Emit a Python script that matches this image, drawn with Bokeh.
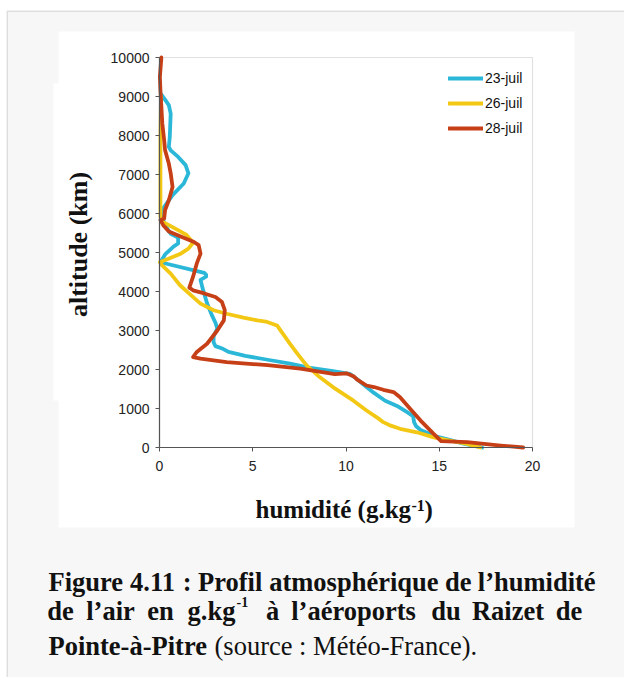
from bokeh.plotting import figure
from bokeh.models import Range1d, Label, BoxAnnotation, Legend, LegendItem, FixedTicker
from bokeh.embed import file_html
from bokeh.resources import INLINE

# ---------------- data ----------------
series_names = ["23-juil", "26-juil", "28-juil"]

hum_23 = [17.3, 16.3, 15.5, 14.7, 14.0, 13.75, 13.65, 13.6, 13.3, 12.8, 12.1, 11.5, 11.1, 10.6, 10.2,
          9.3, 8.0, 7.0, 5.8, 4.6, 3.7, 3.4, 3.0, 2.9, 2.9, 3.1, 3.0, 2.8, 2.55, 2.3, 2.2, 2.5, 2.5,
          2.4, 0.05, 0.3, 0.75, 1.0, 1.0, 0.6, 0.3, 0.15, 0.2, 0.7, 1.3, 1.55, 1.4, 1.0, 0.6, 0.5,
          0.55, 0.6, 0.5, 0.25, 0.1]
alt_23 = [0, 100, 200, 300, 450, 550, 650, 800, 900, 1050, 1200, 1400, 1550, 1750, 1890,
          1960, 2050, 2150, 2250, 2350, 2450, 2530, 2600, 2700, 2850, 3050, 3200, 3400, 3700, 4100, 4300, 4380, 4430,
          4480, 4750, 4950, 5150, 5230, 5380, 5480, 5700, 5900, 6130, 6470, 6770, 7030, 7240, 7450, 7620, 7710,
          7960, 8560, 8780, 8950, 9050]

hum_26 = [17.2, 16.5, 14.7, 13.8, 12.9, 12.4, 12.0, 11.75, 11.1, 10.4, 9.3, 8.6, 7.9, 7.4, 7.0, 6.3,
          5.7, 5.25, 4.5, 3.6, 2.9, 2.2, 1.7, 1.1, 0.6, 0.14, 0.02, 1.1, 1.55, 1.8, 1.45, 0.85, 0.15,
          0.05, 0.05, 0.05, 0.08]
alt_26 = [0, 90, 260, 390, 480, 560, 650, 740, 950, 1200, 1550, 1800, 2100, 2400, 2660, 3130,
          3230, 3260, 3330, 3430, 3520, 3690, 3900, 4160, 4460, 4670, 4750, 4960, 5100, 5250, 5450, 5610, 5790,
          5920, 7000, 8000, 9000]

hum_28 = [19.5, 18.3, 16.5, 15.1, 14.7, 14.0, 13.45, 12.9, 12.55, 12.0, 11.5, 11.1, 10.6, 10.4, 10.05,
          9.4, 7.55, 5.8, 3.6, 2.2, 1.8, 2.0, 2.55, 3.1, 3.45, 3.5, 3.35, 3.0, 2.4, 1.8, 1.6, 1.8, 2.0,
          2.2, 2.1, 1.85, 1.2, 0.5, 0.2, 0.05, 0.25, 0.3, 0.5, 0.7, 0.6, 0.5, 0.3, 0.25, 0.15, 0.05,
          0.02, 0.1]
alt_28 = [0, 50, 140, 165, 350, 690, 990, 1290, 1420, 1480, 1550, 1590, 1740, 1830, 1900,
          1880, 2020, 2110, 2190, 2280, 2320, 2450, 2660, 3000, 3260, 3520, 3730, 3860, 3950, 4030, 4100, 4380, 4720,
          4970, 5190, 5270, 5400, 5540, 5700, 5830, 5870, 6090, 6340, 6680, 7030, 7280, 7620, 7880, 8310, 9160,
          9500, 10000]

x_ticks = [0, 5, 10, 15, 20]
x_tick_labels = ["0", "5", "10", "15", "20"]
y_ticks = [0, 1000, 2000, 3000, 4000, 5000, 6000, 7000, 8000, 9000, 10000]
y_tick_labels = ["0", "1000", "2000", "3000", "4000", "5000", "6000", "7000", "8000", "9000", "10000"]

colors = ["#2bb7d8", "#f3c814", "#c63f16"]

# ---------------- layout (page pixels) ----------------
W, H = 624, 677
PX0, PX20 = 159.0, 532.0        # pixel of humidity 0 and 20
PY0, PY10K = 447.0, 57.0        # pixel of altitude 0 and 10000
KX = (PX20 - PX0) / 20.0
KY = (PY0 - PY10K) / 10000.0


def px2x(px):
    return (px - PX0) / KX


def px2y(py):
    return (PY0 - py) / KY


p = figure(width=W, height=H, output_backend="svg", toolbar_location=None,
           x_range=Range1d(px2x(0), px2x(W)), y_range=Range1d(px2y(H), px2y(0)),
           min_border_left=0, min_border_right=0, min_border_top=0, min_border_bottom=0)
p.border_fill_color = "white"
p.background_fill_color = "white"
p.outline_line_color = None
p.grid.visible = False


def box(l, t, r, b, fill, line=None, lw=1.0, alpha=1.0):
    p.add_layout(BoxAnnotation(left=px2x(l), right=px2x(r), top=px2y(t), bottom=px2y(b),
                               fill_color=fill, fill_alpha=alpha, line_color=line, line_width=lw,
                               level="underlay"))


# gray page panel with border, white chart area, plot-area border
box(6.75, 10.75, W + 30, H + 30, "#f7f7f7", "#a0a0a0", 1.5)
box(58, 31, 574, 527, "white")
box(53, 83, 60, 400, "white")
p.add_layout(BoxAnnotation(left=0, right=20, bottom=0, top=10000, fill_alpha=0,
                           line_color="#9a9a9a", line_width=1.2, level="underlay"))

# axes (drawn at x=0 / y=0 of the data)
for ax in (p.xaxis, p.yaxis):
    ax.fixed_location = 0
    ax.axis_line_color = "#555555"
    ax.axis_line_width = 1.2
    ax.major_tick_line_color = "#555555"
    ax.major_tick_out = 4
    ax.major_tick_in = 0
    ax.minor_tick_out = 0
    ax.minor_tick_in = 0
    ax.major_label_text_font = "Liberation Sans"
    ax.major_label_text_font_size = "14px"
    ax.major_label_text_color = "#222222"

p.xaxis.bounds = (0, 20)
p.xaxis.ticker = FixedTicker(ticks=x_ticks)
p.xaxis.major_label_overrides = dict(zip(x_ticks, x_tick_labels))
p.xaxis.major_label_standoff = 9
p.yaxis.bounds = (0, 10000)
p.yaxis.ticker = FixedTicker(ticks=y_ticks)
p.yaxis.major_label_overrides = dict(zip(y_ticks, y_tick_labels))
p.yaxis.major_label_standoff = 6

# lines
renderers = []
for hum, alt, c in zip([hum_23, hum_26, hum_28], [alt_23, alt_26, alt_28], colors):
    r = p.line(hum, alt, line_color=c, line_width=3.8, line_join="round", line_cap="round")
    renderers.append(r)

legend = Legend(items=[LegendItem(label=n, renderers=[r]) for n, r in zip(series_names, renderers)],
                location=(448, H - 138), border_line_color=None, background_fill_alpha=0,
                padding=0, margin=0, spacing=5, glyph_width=35, glyph_height=20, label_height=20,
                label_standoff=2, label_text_font="Liberation Sans", label_text_font_size="14px",
                label_text_color="#111111")
p.add_layout(legend, "center")


def lab(x, y, text, size, bold=True, align="left", baseline="alphabetic", angle=0.0,
        font="Liberation Serif", color="#111111"):
    p.add_layout(Label(x=px2x(x), y=px2y(y), text=text,
                       text_font=font, text_font_size=f"{size}px",
                       text_font_style="bold" if bold else "normal",
                       text_align=align, text_baseline=baseline, angle=angle, text_color=color))


# axis titles
lab(78, 244, "altitude (km)", 26, align="center", baseline="middle", angle=1.5708)
lab(255, 509, "humidité (g.kg", 25)
lab(411, 505, "-1", 16)
lab(424, 509, ")", 25)

# caption
CAP = 26.5
l1 = [(48, "Figure"), (129.5, "4.11"), (182.3, ":"), (197.5, "Profil"), (268.7, "atmosphérique"),
      (444.4, "de"), (477.3, "l\u2019humidité")]
for x, t in l1:
    lab(x, 581, t, CAP)
l2 = [(60, "de"), (110, "l\u2019air"), (160, "en"), (211, "g.kg")]
for x, t in l2:
    lab(x, 610, t, CAP, align="center")
lab(236, 601, "-1", 14)
l2b = [(272, "à"), (353, "l\u2019aéroports"), (445.5, "du"), (507.5, "Raizet"), (568.5, "de")]
for x, t in l2b:
    lab(x, 610, t, CAP, align="center")
lab(48, 645, "Pointe-à-Pitre", CAP)
lab(214, 645, "(source : Météo-France).", CAP, bold=False)

open("out.html", "w").write(file_html(p, INLINE))
